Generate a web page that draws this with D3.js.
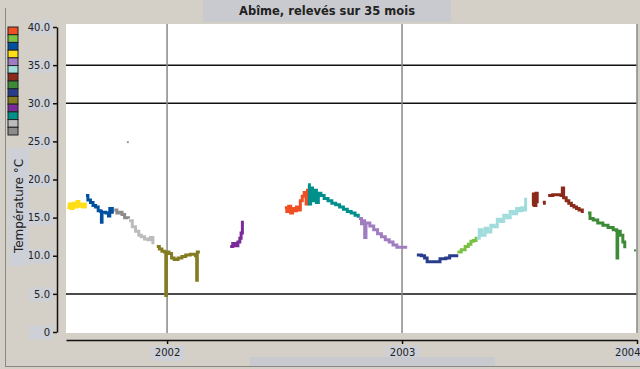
<!DOCTYPE html>
<html>
<head>
<meta charset="utf-8">
<script src="https://cdn.jsdelivr.net/npm/d3@7"></script>
<style>
  body { margin: 0; background: #d4d0c8; }
  svg { display: block; }
</style>
</head>
<body>
<div id="chart"></div>
<script>
// axes / labels
const titleText = "Abîme, relevés sur 35 mois";
const yLabel = "Température °C";
const yTicks = [0, 5, 10, 15, 20, 25, 30, 35, 40];
const gridLevels = [5, 30, 35];
const yearTicks = ["2002-01-01", "2003-01-01", "2004-01-01"];
const legendColors = ["#f04e23", "#7ac143", "#0050a0", "#ffde17", "#a07cc0", "#a0dcdc", "#8b2a1a",
  "#3d8b37", "#283c8c", "#847c20", "#7a2a9a", "#00908c", "#bcbcbc", "#8c8c8c"];

// relevés (date, °C)
const juil01 = [["2001-07-30",16.3],["2001-08-02",16.8],["2001-08-05",16.2],["2001-08-08",16.9],["2001-08-11",16.4],
  ["2001-08-14",17.1],["2001-08-17",16.5],["2001-08-20",16.8],["2001-08-23",16.4],["2001-08-27",17.0]];
const sep01 = [["2001-08-28",17.9],["2001-08-31",17.3],["2001-09-04",17.0],["2001-09-08",16.6],["2001-09-12",16.4],
  ["2001-09-16",15.9],["2001-09-20",15.8],["2001-09-21",14.4],["2001-09-22",15.7],["2001-09-28",15.6],
  ["2001-10-02",15.2],["2001-10-04",16.2],["2001-10-08",15.5]];
const oct01 = [["2001-10-11",16.0],["2001-10-15",15.6],["2001-10-19",15.7],["2001-10-23",15.4],["2001-10-27",15.0],["2001-11-02",14.9]];
const nov01 = [["2001-11-03",14.6],["2001-11-08",13.8],["2001-11-13",13.2],["2001-11-18",12.7],["2001-11-22",12.5],
  ["2001-11-27",12.2],["2001-12-02",12.1],["2001-12-06",12.4],["2001-12-10",11.5]];
const dec01 = [["2001-12-16",11.2],["2001-12-20",10.9],["2001-12-24",10.6],["2001-12-28",10.5],["2001-12-30",4.8],
  ["2001-12-31",10.5],["2002-01-04",10.3],["2002-01-08",9.7],["2002-01-12",9.5],["2002-01-18",9.7],
  ["2002-01-24",9.9],["2002-01-30",10.1],["2002-02-06",10.2],["2002-02-14",10.0],["2002-02-16",6.8],
  ["2002-02-17",10.5],["2002-02-21",10.5]];
const avr02 = [["2002-04-09",11.2],["2002-04-13",11.6],["2002-04-17",11.3],["2002-04-21",11.8],["2002-04-24",12.3],
  ["2002-04-26",13.0],["2002-04-28",14.6]];
const juil02 = [["2002-07-03",16.3],["2002-07-06",15.8],["2002-07-09",16.5],["2002-07-12",15.6],["2002-07-15",16.2],
  ["2002-07-18",15.9],["2002-07-21",16.4],["2002-07-24",16.0],["2002-07-27",17.2],["2002-07-30",17.8],
  ["2002-08-02",18.3],["2002-08-05",16.8],["2002-08-07",18.8]];
const aout02 = [["2002-08-08",19.3],["2002-08-10",16.8],["2002-08-12",18.9],["2002-08-15",17.2],["2002-08-18",18.6],
  ["2002-08-21",17.0],["2002-08-24",18.2],["2002-08-28",17.9],["2002-09-02",17.5],["2002-09-08",17.2],
  ["2002-09-14",16.9],["2002-09-20",16.7],["2002-09-26",16.4],["2002-10-02",16.1],["2002-10-08",15.8],
  ["2002-10-14",15.6],["2002-10-20",15.3],["2002-10-25",15.0]];
const nov02 = [["2002-10-26",14.9],["2002-10-30",14.2],["2002-11-02",14.6],["2002-11-04",12.4],["2002-11-06",14.3],
  ["2002-11-12",13.9],["2002-11-18",13.4],["2002-11-24",12.9],["2002-11-30",12.5],["2002-12-06",12.1],
  ["2002-12-12",11.8],["2002-12-18",11.4],["2002-12-24",11.1],["2003-01-01",11.1],["2003-01-09",11.1]];
const jan03 = [["2003-01-24",10.1],["2003-01-31",10.0],["2003-02-05",9.7],["2003-02-09",9.2],["2003-02-16",9.2],
  ["2003-03-01",9.6],["2003-03-10",9.7],["2003-03-16",10.0],["2003-03-27",10.2]];
const avr03 = [["2003-03-28",10.5],["2003-04-03",10.8],["2003-04-09",11.2],["2003-04-14",11.5],["2003-04-18",11.9],
  ["2003-04-22",12.0],["2003-04-26",12.5]];
const mai03 = [["2003-04-27",12.3],["2003-05-01",13.4],["2003-05-05",12.7],["2003-05-10",13.6],["2003-05-14",13.1],
  ["2003-05-19",14.0],["2003-05-24",13.8],["2003-05-29",14.8],["2003-06-03",14.5],["2003-06-08",15.3],
  ["2003-06-13",15.0],["2003-06-18",15.8],["2003-06-23",15.5],["2003-06-28",16.2],["2003-07-02",15.9],
  ["2003-07-06",16.3],["2003-07-09",16.0],["2003-07-12",17.6]];
const juil03 = [["2003-07-22",16.7],["2003-07-24",18.1],["2003-07-26",16.6],["2003-07-28",18.2],["2003-07-30",16.9]];
const aout03 = [["2003-08-08",16.9],["2003-08-10",17.2]];
const sep03 = [["2003-08-16",17.9],["2003-08-23",18.0],["2003-08-30",18.0],["2003-09-05",17.9],["2003-09-07",18.9],
  ["2003-09-09",17.6],["2003-09-13",17.2],["2003-09-17",16.9],["2003-09-21",16.6],["2003-09-25",16.4],
  ["2003-09-29",16.2],["2003-10-03",16.0],["2003-10-08",15.6]];
const oct03 = [["2003-10-17",15.6],["2003-10-20",14.9],["2003-10-25",14.7],["2003-11-01",14.3],["2003-11-09",14.0],
  ["2003-11-17",13.7],["2003-11-25",13.4],["2003-11-30",13.3],["2003-12-01",9.7],["2003-12-02",13.2],
  ["2003-12-06",12.7],["2003-12-10",11.8],["2003-12-13",11.0]];
const isoles = [["2001-11-01",24.9],["2003-12-29",10.7]];

const segments = [juil01, sep01, oct01, nov01, dec01, avr02, juil02, aout02, nov02, jan03, avr03, mai03, juil03, aout03, sep03, oct03];
const segmentColors = ["#ffde17", "#0050a0", "#8c8c8c", "#bcbcbc", "#847c20", "#7a2a9a", "#f04e23", "#00908c",
  "#a07cc0", "#283c8c", "#7ac143", "#a0dcdc", "#8b2a1a", "#8b2a1a", "#8b2a1a", "#3d8b37"];
const isoleColors = ["#999999", "#3d8b37"];

const width = 640, height = 369;
const plot = {left: 66, right: 637, top: 24, bottom: 333};
const parse = d3.timeParse("%Y-%m-%d");

const svg = d3.select("#chart").append("svg")
  .attr("width", width)
  .attr("height", height)
  .style("font-family", "DejaVu Sans, sans-serif");

// panel frame
svg.append("rect").attr("x", 0).attr("y", 0).attr("width", width).attr("height", height).attr("fill", "#d4d0c8");
svg.append("line").attr("x1", 5.5).attr("x2", 5.5).attr("y1", 8).attr("y2", 366).attr("stroke", "#8a8884");
svg.append("line").attr("x1", 5).attr("x2", 640).attr("y1", 366.5).attr("y2", 366.5).attr("stroke", "#8a8884");

// title
svg.append("rect").attr("x", 203).attr("y", 0).attr("width", 248).attr("height", 22).attr("fill", "#c9cacf");
svg.append("text").attr("x", 327).attr("y", 15).attr("text-anchor", "middle")
  .attr("font-size", 11.5).attr("font-weight", "bold").attr("fill", "#222").text(titleText);

const x = d3.scaleTime()
  .domain([new Date(2001, 6, 28), new Date(2004, 0, 1)])
  .range([plot.left, plot.right]);
const y = d3.scaleLinear().domain([0, 40]).range([332, 27]);

// plot background
svg.append("rect").attr("x", plot.left).attr("y", plot.top)
  .attr("width", plot.right - plot.left).attr("height", plot.bottom - plot.top).attr("fill", "#fff");

// grid
svg.append("g").selectAll("line").data(gridLevels).join("line")
  .attr("x1", plot.left).attr("x2", plot.right)
  .attr("y1", d => y(d)).attr("y2", d => y(d))
  .attr("stroke", "#111").attr("stroke-width", 1.5);
svg.append("g").selectAll("line").data(yearTicks.map(parse)).join("line")
  .attr("x1", d => x(d)).attr("x2", d => x(d))
  .attr("y1", plot.top).attr("y2", plot.bottom)
  .attr("stroke", "#888").attr("stroke-width", 1.5);

// data
const line = d3.line().x(d => x(parse(d[0]))).y(d => y(d[1])).curve(d3.curveStepAfter);
svg.append("g").selectAll("path").data(segments).join("path")
  .attr("d", line)
  .attr("fill", "none")
  .attr("stroke", (d, i) => segmentColors[i])
  .attr("stroke-width", 3);
svg.append("g").selectAll("rect").data(isoles).join("rect")
  .attr("x", d => x(parse(d[0])) - 1).attr("y", d => y(d[1]) - 1)
  .attr("width", 2).attr("height", 2)
  .attr("fill", (d, i) => isoleColors[i]);

// y axis
const yAxis = d3.axisLeft(y).tickValues(yTicks).tickSize(4).tickSizeOuter(0)
  .tickFormat(d => d === 0 ? "0" : d3.format(".1f")(d));
const gY = svg.append("g").attr("transform", "translate(57,0)").call(yAxis);
gY.select(".domain").attr("stroke", "#111").attr("stroke-width", 1.5);
gY.selectAll(".tick line").attr("stroke", "#111").attr("stroke-width", 1.5);
gY.selectAll(".tick text").attr("font-size", 10).attr("fill", "#222").attr("x", -7)
  .attr("font-family", "DejaVu Sans, sans-serif");
gY.selectAll(".tick").insert("rect", "text")
  .attr("x", -28).attr("y", -7).attr("width", 24).attr("height", 14).attr("fill", "#cdd0d6");

// y label
svg.append("rect").attr("x", 9).attr("y", 148).attr("width", 20).attr("height", 118).attr("fill", "#cdd0d6");
svg.append("text").attr("transform", "translate(23,206) rotate(-90)")
  .attr("text-anchor", "middle").attr("font-size", 12).attr("fill", "#222").text(yLabel);

// x axis
const xAxis = d3.axisBottom(x).tickValues(yearTicks.map(parse)).tickSize(4).tickSizeOuter(0)
  .tickFormat(d3.timeFormat("%Y"));
const gX = svg.append("g").attr("transform", "translate(0,340)").call(xAxis);
gX.select(".domain").attr("stroke", "#111").attr("stroke-width", 1.5);
gX.selectAll(".tick line").attr("stroke", "#111").attr("stroke-width", 1.5);
gX.selectAll(".tick").insert("rect", "text")
  .attr("x", (d, i) => i === yearTicks.length - 1 ? -22 : -17)
  .attr("y", 6).attr("width", (d, i) => i === yearTicks.length - 1 ? 25 : 34).attr("height", 15)
  .attr("fill", "#cdd0d6");
gX.selectAll(".tick text").attr("font-size", 10).attr("fill", "#222").attr("y", 9)
  .attr("font-family", "DejaVu Sans, sans-serif");
gX.selectAll(".tick text").filter((d, i) => i === yearTicks.length - 1)
  .attr("text-anchor", "end").attr("x", 3);
svg.append("rect").attr("x", 250).attr("y", 357).attr("width", 245).attr("height", 9).attr("fill", "#c9cacf");

// colour legend
const sw = 108 / legendColors.length;
svg.append("g").selectAll("rect").data(legendColors).join("rect")
  .attr("x", 8).attr("y", (d, i) => 27 + i * sw)
  .attr("width", 10).attr("height", sw)
  .attr("fill", d => d).attr("stroke", "#222").attr("stroke-width", 1);
</script>
</body>
</html>
